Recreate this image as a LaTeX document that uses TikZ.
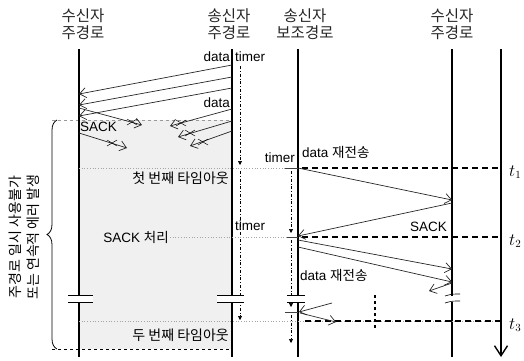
\documentclass[tikz,border=0pt]{standalone}
\usepackage{fontspec}
\setmainfont{Liberation Sans}
\newfontfamily\kr{Noto Sans CJK KR}
\usetikzlibrary{arrows.meta,decorations.pathreplacing}
\begin{document}
\begin{tikzpicture}[x=1pt,y=-1pt,
  lifeline/.style={line width=1.6pt},
  msg/.style={line width=0.7pt,black!85,-{Straight Barb[length=6.5pt,width=10pt,line width=0.7pt]}},
  timerline/.style={line width=0.6pt,dash dot,-{Triangle[length=4pt,width=4pt]}},
  guide/.style={line width=0.7pt,gray!70,dotted},
  tline/.style={line width=1.4pt,dash pattern=on 6pt off 4pt},
  cmark/.style={line width=1pt,black!75},
  lab/.style={font=\fontsize{13.5}{16}\selectfont,inner sep=1pt},
  head/.style={font=\kr\fontsize{15.5}{17}\selectfont,align=center,inner sep=0pt,black!85},
  tlab/.style={font=\fontsize{16}{16}\selectfont,inner sep=0pt},
  lost/.pic={\draw[line width=0.5pt] (-5,-3)--(5,3) (-5,3)--(5,-3);},
  brk/.style={line width=0.6pt}
]
\useasboundingbox (0,0) rectangle (524,360);
% shaded region
\fill[gray!12] (79,120) rectangle (232,349);
\draw[gray!80,line width=0.8pt,dashed] (52,120) -- (232,120);
\draw[line width=0.8pt,dashed] (52,349) -- (232,349);
\draw[line width=0.8pt,decorate,decoration={brace,amplitude=10pt}] (57,349) -- (57,120);
\node[font=\kr\fontsize{14}{18}\selectfont,align=center,rotate=90,inner sep=0pt] (side) at (24,237) {주경로 일시 사용불가\\또는 연속적 에러 발생};

% headers
\node[head] (hA) at (83,24) {수신자\\주경로};
\node[head] (hB) at (229,24) {송신자\\주경로};
\node[head] (hC) at (305,24) {송신자\\보조경로};
\node[head] (hD) at (452,24) {수신자\\주경로};

% lifelines
\coordinate (A0) at (79,49);  \coordinate (A1) at (79,357);
\coordinate (B0) at (232,49); \coordinate (B1) at (232,357);
\coordinate (C0) at (298,49); \coordinate (C1) at (298,357);
\coordinate (D0) at (452,49); \coordinate (D1) at (452,357);
\coordinate (E0) at (501,49); \coordinate (E1) at (501,357);
\draw[lifeline] (A0) -- (A1);
\draw[lifeline] (B0) -- (B1);
\draw[lifeline] (C0) -- (C1);
\draw[lifeline] (D0) -- (D1);
\draw[lifeline,-{Straight Barb[length=10pt,width=13pt,line width=1.4pt]}] (E0) -- (E1);

% guide lines and time lines
\coordinate (g1a) at (79,168);  \coordinate (g1b) at (285,168);
\coordinate (g3a) at (79,321);  \coordinate (g3b) at (501,321);
\draw[guide] (g1a) -- (g1b);
\draw[guide] (g3a) -- (g3b);
\coordinate (m1a) at (285,168); \coordinate (m1b) at (298,168);
\coordinate (m2a) at (287,237); \coordinate (m2b) at (298,237);
\coordinate (m3a) at (285,312); \coordinate (m3b) at (298,312);
\draw[cmark] (m1a) -- (m1b);
\draw[cmark] (m2a) -- (m2b);
\draw[cmark] (m3a) -- (m3b);
\coordinate (t1a) at (302,168); \coordinate (t1b) at (501,168);
\coordinate (t2a) at (302,237); \coordinate (t2b) at (501,237);
\coordinate (t3a) at (305,321); \coordinate (t3b) at (501,321);
\draw[tline] (t1a) -- (t1b);
\draw[tline] (t2a) -- (t2b);
\draw[tline] (t3a) -- (t3b);

% first data burst
\coordinate (d1s) at (232,65);  \coordinate (d1e) at (79,94);
\coordinate (d2s) at (232,77);  \coordinate (d2e) at (79,105);
\coordinate (d3s) at (232,88);  \coordinate (d3e) at (79,116);
\draw[msg] (d1s) -- (d1e);
\draw[msg] (d2s) -- (d2e);
\draw[msg] (d3s) -- (d3e);
% lost data
\coordinate (l1s) at (232,109); \coordinate (l1e) at (170,126);
\coordinate (l2s) at (232,121); \coordinate (l2e) at (178,137);
\coordinate (l3s) at (232,131); \coordinate (l3e) at (190,146);
\draw[msg] (l1s) -- (l1e);
\draw[msg] (l2s) -- (l2e);
\draw[msg] (l3s) -- (l3e);
\pic at (181,123) {lost};
\pic at (190,133) {lost};
\pic at (203,142) {lost};
% lost SACKs
\coordinate (s1s) at (79,108); \coordinate (s1e) at (142,125);
\coordinate (s2s) at (79,133); \coordinate (s2e) at (127,148);
\draw[msg] (s1s) -- (s1e);
\draw[msg] (s2s) -- (s2e);
\pic at (132,122) {lost};
\pic at (112,143) {lost};

% timers
\coordinate (tb1s) at (240,66);  \coordinate (tb1e) at (240,165);
\coordinate (tb2s) at (240,171); \coordinate (tb2e) at (240,320);
\coordinate (tc1s) at (291,171); \coordinate (tc1e) at (291,233);
\coordinate (tc2s) at (291,240); \coordinate (tc2e) at (291,307);
\coordinate (tc3s) at (291,315); \coordinate (tc3e) at (291,343);
\draw[timerline] (tb1s) -- (tb1e);
\draw[timerline] (tb2s) -- (tb2e);
\draw[timerline] (tc1s) -- (tc1e);
\draw[timerline] (tc2s) -- (tc2e);
\draw[timerline] (tc3s) -- (tc3e);

% retransmission
\coordinate (r1s) at (298,168); \coordinate (r1e) at (452,200);
\coordinate (k1s) at (452,203); \coordinate (k1e) at (298,236);
\coordinate (r2s) at (298,240); \coordinate (r2e) at (452,269);
\coordinate (r3s) at (298,247); \coordinate (r3e) at (452,282);
\coordinate (k2s) at (452,283); \coordinate (k2e) at (429,291);
\coordinate (r4s) at (332,303); \coordinate (r4e) at (299,312);
\coordinate (r5s) at (300,313); \coordinate (r5e) at (336,322);
\draw[msg] (r1s) -- (r1e);
\draw[msg] (k1s) -- (k1e);
\draw[msg] (r2s) -- (r2e);
\draw[msg] (r3s) -- (r3e);
\draw[msg] (k2s) -- (k2e);
\draw[msg] (r4s) -- (r4e);
\draw[msg] (r5s) -- (r5e);

% thick dotted vertical
\coordinate (v0) at (375,295); \coordinate (v1) at (375,328);
\draw[line width=2.6pt,dash pattern=on 3pt off 3pt] (v0) -- (v1);

% breaks
\fill[white] (68,295.5) rectangle (93,301.5);
\draw[brk] (68,295) -- (93,295) (68,302) -- (93,302);
\fill[white] (217,295.5) rectangle (244,301.5);
\draw[brk] (217,295) -- (244,295) (217,302) -- (244,302);
\fill[white] (287,295.5) rectangle (305,301.5);
\draw[brk] (287,295) -- (305,295) (287,302) -- (305,302);
\fill[white] (445,295.5) rectangle (460,301.5);
\draw[brk] (445,296) .. controls (452,294) .. (460,294) (445,303) .. controls (452,301) .. (460,301);

% labels
\node[lab,anchor=east] (ldata1) at (231,57) {data};
\node[lab,anchor=west] (ltimer1) at (234,57) {timer};
\node[lab,anchor=east] (ldata2) at (231,103) {data};
\node[lab,anchor=west] (lsack1) at (79,127) {SACK};
\node[lab,anchor=east,font=\kr\fontsize{14}{16}\selectfont] (lto1) at (230,178) {첫 번째 타임아웃};
\node[lab,anchor=east] (ltimer2) at (296,158) {timer};
\node[lab,anchor=west] (lre1) at (301,152) {data {\kr 재전송}};
\node[lab,anchor=east] (lsack2) at (448,227) {SACK};
\node[lab,anchor=west] (ltimer3) at (234,226) {timer};
\node[lab,anchor=east] (lproc) at (170,237) {SACK {\kr 처리}};
\draw[guide] (lproc.east) -- (m2a);
\node[lab,anchor=west] (lre2) at (299,275) {data {\kr 재전송}};
\node[lab,anchor=east,font=\kr\fontsize{14}{16}\selectfont] (lto2) at (230,335) {두 번째 타임아웃};
\node[tlab,anchor=west] (lt1) at (509,172) {$t_1$};
\node[tlab,anchor=west] (lt2) at (509,241) {$t_2$};
\node[tlab,anchor=west] (lt3) at (509,325) {$t_3$};
\end{tikzpicture}
\end{document}
